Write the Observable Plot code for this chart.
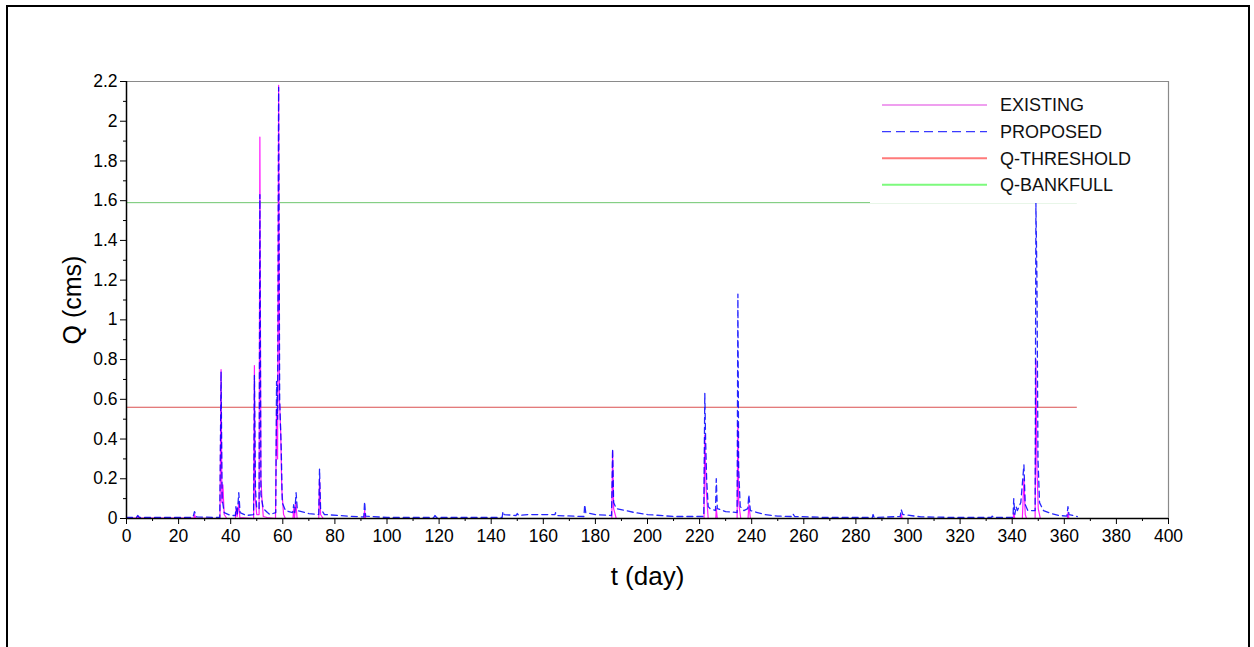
<!DOCTYPE html>
<html>
<head>
<meta charset="utf-8">
<script src="https://cdn.jsdelivr.net/npm/d3@7"></script>
<script src="https://cdn.jsdelivr.net/npm/@observablehq/plot@0.6"></script>
<style>
  body { margin: 0; background: #fff; }
  #wrap { position: relative; width: 1254px; height: 647px; overflow: hidden;
          font-family: "Liberation Sans", Arial, sans-serif; }
  #chart { position: absolute; left: 0; top: 0; }
  #legend { position: absolute; left: 870px; top: 90px; width: 290px; height: 113px; background: #fff; }
  #border { position: absolute; left: 6px; top: 5px; width: 1244px; height: 700px;
            border: 2px solid #000; box-sizing: border-box; pointer-events: none; }
</style>
</head>
<body>
<div id="wrap">
  <div id="chart"></div>
  <div id="legend"></div>
  <div id="border"></div>
</div>
<script>
// Daily discharge, proposed condition (t in days, Q in cms)
const tProposed = [
  0, 3.8, 4.3, 5, 25.5, 26.1, 27, 35.8, 36.3, 36.7, 37.5, 40, 41.8, 42, 42.5, 43.1, 43.6, 46,
  48.8, 49.1, 49.5, 50, 50.9, 51.2, 51.6, 52.5, 54.1, 55, 57.3, 57.6, 58.0, 58.4, 58.8, 59.4, 59.8,
  61, 63.8, 64.2, 64.6, 65.1, 65.6, 70, 73.8, 74.1, 74.5, 76, 85, 91.1, 91.4, 91.8, 100,
  118, 118.4, 119, 144.2, 144.5, 145, 149.5, 150, 150.6, 154, 157.5, 164.5, 164.7, 165,
  175.6, 175.9, 176.3, 180, 186.2, 186.6, 187, 188, 195, 200, 210,
  221.6, 222, 222.3, 222.7, 223.3, 224, 226.1, 226.4, 226.8, 230, 234.4, 234.7, 235, 235.6,
  237, 238.5, 238.9, 239.5, 245, 250, 255.6, 255.9, 256.5, 270, 286.3, 286.6, 287,
  297, 297.4, 298, 305, 320, 332, 332.3, 332.8, 340.3, 340.6, 341, 341.5, 342, 343.3,
  344.5, 345, 346, 348.8, 349.1, 349.5, 349.9, 350.5, 352, 355, 358, 361, 361.4, 361.8, 365
];
const qProposed = [
  0.005, 0.005, 0.015, 0.005, 0.005, 0.035, 0.008, 0.005, 0.74, 0.1, 0.03, 0.015, 0.015, 0.06, 0.02, 0.13, 0.03, 0.015,
  0.02, 0.72, 0.15, 0.05, 0.05, 1.63, 0.12, 0.05, 0.03, 0.02, 0.03, 0.69, 0.5, 2.17, 0.6, 0.35, 0.08,
  0.04, 0.03, 0.07, 0.03, 0.13, 0.04, 0.025, 0.02, 0.25, 0.05, 0.02, 0.012, 0.008, 0.085, 0.012, 0.005,
  0.005, 0.015, 0.005, 0.005, 0.035, 0.02, 0.015, 0.025, 0.015, 0.02, 0.02, 0.02, 0.03, 0.015,
  0.01, 0.07, 0.03, 0.02, 0.015, 0.35, 0.08, 0.05, 0.03, 0.02, 0.01,
  0.01, 0.63, 0.4, 0.2, 0.06, 0.05, 0.04, 0.2, 0.05, 0.035, 0.03, 1.13, 0.25, 0.06,
  0.04, 0.05, 0.12, 0.04, 0.02, 0.012, 0.01, 0.022, 0.01, 0.005, 0.005, 0.02, 0.005,
  0.01, 0.045, 0.02, 0.008, 0.005, 0.005, 0.012, 0.005, 0.005, 0.1, 0.02, 0.06, 0.04, 0.08,
  0.27, 0.07, 0.04, 0.04, 1.59, 1.2, 0.3, 0.08, 0.04, 0.025, 0.015, 0.012, 0.06, 0.02, 0.01
];

// Daily discharge, existing condition
const tExisting = [
  0, 4.0, 4.3, 4.8, 26.0, 26.1, 26.6, 35.9, 36.3, 36.6, 37.0, 37.5, 38.5, 41.8, 42.1, 42.5, 43.1, 43.5,
  48.8, 49.1, 49.4, 50, 50.9, 51.2, 51.6, 52, 52.5, 54, 57.2, 57.6, 58, 58.4, 58.7, 59.2, 59.6, 60.3, 61,
  63.9, 64.2, 64.5, 65.0, 65.5, 73.8, 74.1, 74.5, 75.5, 91.2, 91.4, 91.8,
  186.3, 186.6, 187, 188, 221.7, 222, 222.5, 223.3, 226.2, 226.4, 226.8,
  234.4, 234.7, 235, 235.8, 238.6, 238.9, 239.5, 297.2, 297.4, 297.8,
  340.4, 340.6, 341, 343.9, 344.5, 345, 345.5, 348.8, 349.1, 349.5, 350, 350.8,
  361.2, 361.4, 361.8, 365
];
const qExisting = [
  0.002, 0.002, 0.012, 0.002, 0.002, 0.02, 0.002, 0, 0.75, 0.08, 0.17, 0.02, 0, 0, 0.05, 0.01, 0.08, 0.005,
  0, 0.77, 0.1, 0.02, 0.02, 1.92, 0.2, 0.1, 0.01, 0.005, 0, 0.55, 0.3, 2.18, 0.6, 0.43, 0.15, 0.02, 0,
  0, 0.05, 0, 0.08, 0, 0, 0.2, 0.02, 0, 0, 0.04, 0,
  0, 0.34, 0.05, 0, 0, 0.42, 0.15, 0, 0, 0.05, 0,
  0, 0.48, 0.08, 0, 0, 0.07, 0, 0, 0.02, 0,
  0, 0.03, 0, 0, 0.2, 0.02, 0, 0, 0.8, 0.25, 0.05, 0,
  0, 0.03, 0, 0
];

// Reference flows and the period they apply to
const qThreshold = 0.56;
const qBankfull = 1.59;
const refSpan = [0, 365];

// Axis ticks
const xTicks = d3.range(0, 401, 20);
const xMinor = d3.range(10, 400, 20);
const yTicks = [0, 0.2, 0.4, 0.6, 0.8, 1, 1.2, 1.4, 1.6, 1.8, 2, 2.2];
const yMinor = [0.1, 0.3, 0.5, 0.7, 0.9, 1.1, 1.3, 1.5, 1.7, 1.9, 2.1];

// Legend entries
const legendLabels = ["EXISTING", "PROPOSED", "Q-THRESHOLD", "Q-BANKFULL"];
const legendColors = ["#e040e0", "#3a3aff", "#ff7a7a", "#7dfa7d"];
const legendDash = [null, "9,5", null, null];
const legendWidth = [1.2, 1.2, 2, 2];

const proposed = tProposed.map((t, i) => ({t, q: qProposed[i]}));
const existing = tExisting.map((t, i) => ({t, q: qExisting[i]}));
const refs = [
  {q: qThreshold, x1: refSpan[0], x2: refSpan[1], c: "#d63c3c"},
  {q: qBankfull, x1: refSpan[0], x2: refSpan[1], c: "#5fbf5f"}
];

const font = `"Liberation Sans", Arial, sans-serif`;

const chart = Plot.plot({
  width: 1254,
  height: 647,
  marginLeft: 126,
  marginRight: 86,
  marginTop: 81,
  marginBottom: 129,
  x: {domain: [0, 400]},
  y: {domain: [0, 2.2]},
  style: {fontFamily: font, fontSize: "17.5px", background: "transparent", color: "#000"},
  marks: [
    Plot.ruleY([2.2], {stroke: "#8a8a8a", strokeWidth: 1.2}),
    Plot.ruleX([400], {stroke: "#8a8a8a", strokeWidth: 1.2}),
    Plot.ruleY(refs, {y: "q", x1: "x1", x2: "x2", stroke: "c", strokeWidth: 0.9}),
    Plot.line(existing, {x: "t", y: "q", stroke: "#ff00ff", strokeWidth: 1.2, strokeOpacity: 0.9}),
    Plot.line(proposed, {x: "t", y: "q", stroke: "#0000ff", strokeWidth: 1.3, strokeDasharray: "6,4", strokeOpacity: 0.85}),
    Plot.axisX({ticks: xTicks, tickSize: 6, tickPadding: 5, tickFormat: d => String(d), label: null, fontSize: 17.5}),
    Plot.axisX({ticks: xMinor, tickSize: 3, tickFormat: () => "", label: null}),
    Plot.axisY({ticks: yTicks, tickSize: 6, tickPadding: 3, tickFormat: d => String(+d.toFixed(1)), label: null, fontSize: 17.5}),
    Plot.axisY({ticks: yMinor, tickSize: 3, tickFormat: () => "", label: null}),
    Plot.ruleX([0], {stroke: "#000", strokeWidth: 1.5}),
    Plot.ruleY([0], {stroke: "#000", strokeWidth: 1.5}),
    Plot.text(["t (day)"], {text: d => d, frameAnchor: "bottom", textAnchor: "middle", dy: 58, fontSize: 26, lineAnchor: "middle"}),
    Plot.text(["Q (cms)"], {text: d => d, frameAnchor: "left", textAnchor: "middle", dx: -54, rotate: -90, fontSize: 25, lineAnchor: "middle"})
  ]
});
document.getElementById("chart").appendChild(chart);

// Legend drawn on a white panel in the upper right of the plot area
const lg = d3.select("#legend").append("svg").attr("width", 290).attr("height", 113);
const rowY = i => 15 + i * 26.6;
legendLabels.forEach((label, i) => {
  lg.append("line")
    .attr("x1", 12).attr("x2", 117).attr("y1", rowY(i)).attr("y2", rowY(i))
    .attr("stroke", legendColors[i]).attr("stroke-width", legendWidth[i])
    .attr("stroke-dasharray", legendDash[i]);
  lg.append("text")
    .attr("x", 130).attr("y", rowY(i)).attr("dy", "0.36em")
    .attr("font-family", font).attr("font-size", 18).attr("fill", "#111")
    .text(label);
});
</script>
</body>
</html>
